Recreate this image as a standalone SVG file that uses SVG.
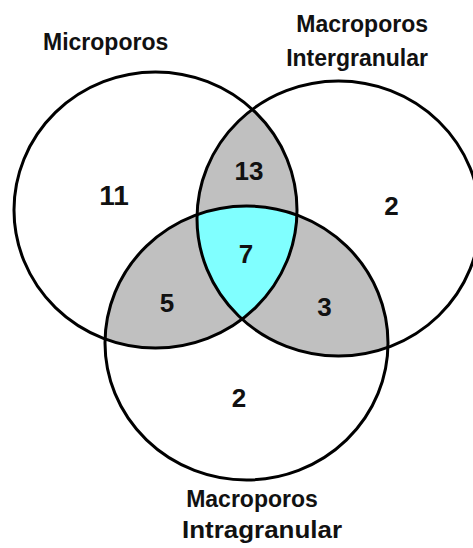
<svg xmlns="http://www.w3.org/2000/svg" width="473" height="548" viewBox="0 0 473 548">
  <style>
    .ring { fill: none; stroke: #000; stroke-width: 3; }
    .pair { fill: #c0c0c0; }
    .core { fill: #80ffff; }
    .label { font-family: "Liberation Sans", Arial, sans-serif; font-weight: bold; font-size: 23px; fill: #111; }
    .count { font-family: "Liberation Sans", Arial, sans-serif; font-weight: bold; font-size: 26px; fill: #111; text-anchor: middle; }
  </style>
  <defs>
    <ellipse id="setMicro" cx="155.5" cy="210" rx="141.5" ry="138"/>
    <ellipse id="setInter" cx="338.5" cy="218.5" rx="141.5" ry="137.5"/>
    <ellipse id="setIntra" cx="246.5" cy="343" rx="141.5" ry="137"/>
    <clipPath id="clipMicro"><use href="#setMicro"/></clipPath>
    <clipPath id="clipInter"><use href="#setInter"/></clipPath>
    <clipPath id="clipIntra"><use href="#setIntra"/></clipPath>
  </defs>

  <rect width="473" height="548" fill="#fff"/>

  <!-- pairwise overlaps -->
  <g id="overlaps">
    <use href="#setInter" class="pair" clip-path="url(#clipMicro)"/>
    <use href="#setIntra" class="pair" clip-path="url(#clipMicro)"/>
    <use href="#setIntra" class="pair" clip-path="url(#clipInter)"/>
    <!-- triple overlap -->
    <g clip-path="url(#clipInter)">
      <use href="#setIntra" class="core" clip-path="url(#clipMicro)"/>
    </g>
  </g>

  <g id="microporos">
    <use href="#setMicro" class="ring"/>
    <text class="label" x="43" y="50">Microporos</text>
  </g>

  <g id="macroporos-intergranular">
    <use href="#setInter" class="ring"/>
    <text class="label" x="428" y="32" text-anchor="end">Macroporos</text>
    <text class="label" x="428" y="66" text-anchor="end">Intergranular</text>
  </g>

  <g id="macroporos-intragranular">
    <use href="#setIntra" class="ring"/>
    <text class="label" x="252" y="507" text-anchor="middle">Macroporos</text>
    <text class="label" x="262" y="538" text-anchor="middle" textLength="160" lengthAdjust="spacingAndGlyphs">Intragranular</text>
  </g>

  <g id="counts">
    <text class="count" x="114" y="205" style="font-size:28px">11</text>
    <text class="count" x="249" y="180">13</text>
    <text class="count" x="391.5" y="215">2</text>
    <text class="count" x="246" y="263">7</text>
    <text class="count" x="167" y="312">5</text>
    <text class="count" x="324.5" y="316">3</text>
    <text class="count" x="239" y="407">2</text>
  </g>
</svg>
